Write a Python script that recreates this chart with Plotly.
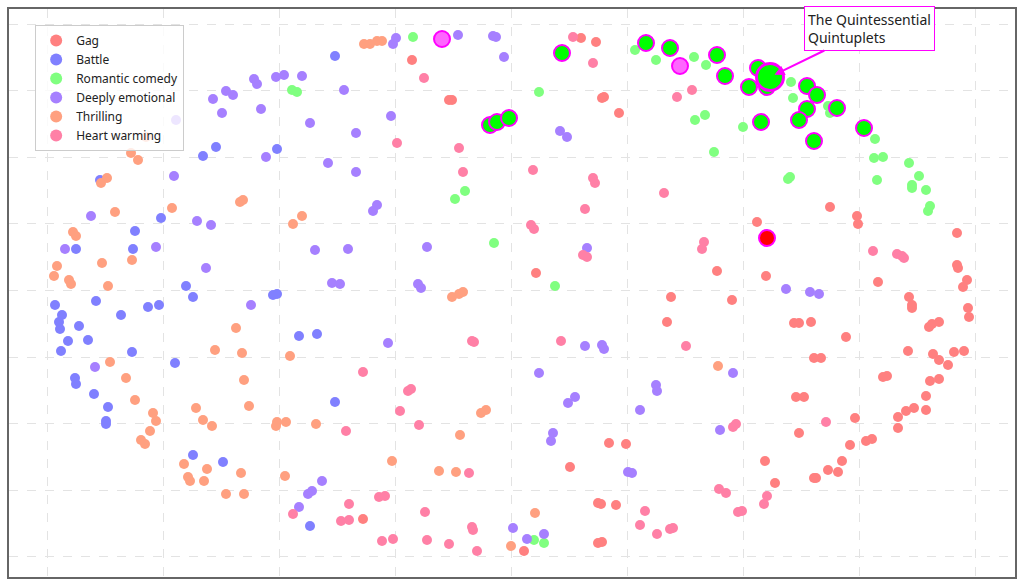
import plotly.graph_objects as go

# Embedding coordinates (arbitrary units; y grows downward)
gag_x = [412, 449, 452, 581, 596, 602, 604, 619, 757, 536, 717, 766, 671, 732, 830, 857, 858, 957, 957, 958,
         967, 963, 878, 909, 912, 912, 968, 969, 794, 799, 811, 846, 929, 932, 939, 908, 933, 939, 948, 954,
         964, 814, 821, 883, 887, 930, 939, 926, 796, 804, 926, 898, 906, 914, 855, 898, 799, 866, 872, 850,
         765, 842, 828, 838, 814, 816, 775, 667, 609, 626, 570, 598, 601, 616, 524, 598, 602, 363]
gag_y = [60, 100, 100, 38, 42, 98, 97, 113, 222, 273, 271, 276, 297, 300, 207, 216, 224, 233, 265, 268,
         280, 287, 282, 297, 305, 308, 308, 317, 323, 323, 322, 337, 327, 324, 322, 351, 354, 360, 365, 352,
         351, 358, 358, 377, 376, 381, 379, 396, 397, 397, 410, 417, 411, 408, 418, 428, 433, 441, 439, 445,
         461, 461, 470, 472, 478, 478, 483, 322, 443, 444, 467, 503, 504, 505, 551, 543, 542, 519]

battle_x = [216, 203, 100, 161, 135, 76, 133, 186, 193, 96, 55, 62, 59, 60, 79, 121, 148, 159, 68, 88,
            61, 132, 175, 75, 76, 94, 108, 106, 106, 193, 223, 335, 277, 273, 277, 299, 317, 335, 310]
battle_y = [147, 156, 180, 218, 231, 249, 249, 286, 297, 301, 305, 315, 322, 329, 326, 315, 307, 305, 341, 340,
            351, 352, 363, 378, 384, 394, 407, 421, 424, 455, 462, 56, 149, 295, 294, 336, 334, 402, 526]

romcom_x = [413, 292, 297, 465, 455, 494, 539, 555, 635, 656, 694, 706, 695, 705, 743, 714, 791, 793, 828, 830,
            875, 874, 883, 877, 909, 919, 912, 912, 926, 930, 928, 788, 790, 534, 544]
romcom_y = [37, 90, 92, 191, 199, 243, 92, 286, 50, 60, 57, 65, 120, 115, 127, 152, 82, 98, 106, 113,
            139, 158, 157, 180, 163, 176, 185, 188, 190, 206, 211, 179, 177, 540, 543]

deep_x = [254, 257, 213, 226, 233, 222, 261, 176, 266, 174, 91, 197, 211, 65, 156, 206, 251, 95, 299, 312,
          308, 322, 396, 393, 458, 493, 496, 504, 276, 284, 302, 344, 391, 310, 356, 328, 356, 377, 373, 315,
          348, 427, 332, 340, 418, 421, 388, 513, 560, 567, 587, 786, 810, 819, 585, 602, 604, 733, 539, 575,
          568, 656, 657, 640, 720, 553, 551, 628, 632, 527, 544]
deep_y = [79, 84, 99, 91, 95, 113, 109, 120, 157, 176, 216, 221, 225, 249, 247, 268, 305, 367, 507, 491,
          494, 481, 38, 44, 35, 36, 37, 57, 77, 75, 76, 90, 116, 123, 133, 163, 172, 205, 211, 250,
          249, 247, 283, 284, 284, 288, 343, 528, 131, 137, 248, 289, 292, 294, 346, 345, 349, 373, 373, 397,
          403, 385, 391, 410, 430, 433, 441, 472, 473, 539, 534]

thrill_x = [146, 131, 138, 107, 101, 240, 243, 115, 172, 73, 76, 132, 102, 57, 54, 69, 71, 108, 236, 215,
            242, 110, 126, 244, 135, 249, 196, 153, 156, 203, 212, 150, 141, 145, 184, 207, 241, 188, 190, 204,
            226, 244, 364, 370, 377, 382, 302, 293, 452, 459, 463, 290, 481, 486, 277, 276, 286, 316, 460, 392,
            285, 439, 456, 511, 718, 535]
thrill_y = [137, 153, 160, 178, 183, 202, 200, 212, 208, 232, 236, 260, 263, 266, 276, 280, 284, 286, 328, 350,
            353, 362, 378, 380, 400, 406, 408, 413, 421, 420, 426, 431, 440, 444, 464, 469, 473, 477, 481, 481,
            494, 494, 44, 44, 41, 41, 216, 224, 297, 294, 292, 356, 413, 410, 422, 426, 422, 424, 435, 461,
            476, 471, 472, 546, 366, 513]

heart_x = [424, 397, 459, 463, 573, 593, 692, 677, 533, 593, 595, 664, 585, 531, 534, 583, 587, 704, 702, 873,
           897, 902, 904, 826, 767, 764, 472, 474, 363, 408, 411, 400, 346, 419, 469, 293, 379, 385, 349, 425,
           341, 349, 472, 473, 382, 393, 427, 449, 477, 561, 686, 733, 736, 719, 726, 645, 738, 742, 640, 657,
           670, 673]
heart_y = [78, 143, 148, 172, 37, 63, 90, 97, 170, 178, 183, 193, 209, 225, 229, 255, 257, 242, 249, 251,
           254, 256, 258, 422, 496, 504, 341, 342, 372, 391, 389, 411, 431, 425, 473, 514, 497, 496, 504, 512,
           521, 520, 527, 530, 541, 539, 540, 544, 551, 341, 346, 427, 424, 489, 493, 511, 512, 511, 525, 534,
           529, 528]

# Highlighted works
hl_green_x = [490, 497, 509, 562, 646, 670, 717, 725, 749, 758, 767, 761, 807, 817, 837, 807, 799, 814, 864]
hl_green_y = [125, 122, 118, 53, 43, 48, 55, 76, 87, 68, 87, 122, 86, 95, 108, 109, 120, 141, 128]
hl_pink_x = [442, 680]
hl_pink_y = [39, 66]
hl_red_x = [767]
hl_red_y = [238]
focus_x = [770]
focus_y = [77]
focus_label = "The Quintessential<br>Quintuplets"

series = [
    ("Gag", gag_x, gag_y, "#FF8080"),
    ("Battle", battle_x, battle_y, "#8080FF"),
    ("Romantic comedy", romcom_x, romcom_y, "#80FF80"),
    ("Deeply emotional", deep_x, deep_y, "#A680FF"),
    ("Thrilling", thrill_x, thrill_y, "#FFA080"),
    ("Heart warming", heart_x, heart_y, "#FF80A6"),
]

fig = go.Figure()
for name, xs, ys, col in series:
    fig.add_trace(go.Scatter(x=xs, y=ys, mode="markers", name=name,
                             marker=dict(size=10, color=col, line=dict(width=0))))

fig.add_trace(go.Scatter(x=hl_pink_x, y=hl_pink_y, mode="markers", showlegend=False,
                         marker=dict(size=16, color="#FF66FF", line=dict(width=2, color="#FF00FF"))))
fig.add_trace(go.Scatter(x=hl_green_x, y=hl_green_y, mode="markers", showlegend=False,
                         marker=dict(size=16, color="#00FF00", line=dict(width=2, color="#FF00FF"))))
fig.add_trace(go.Scatter(x=hl_red_x, y=hl_red_y, mode="markers", showlegend=False,
                         marker=dict(size=16, color="#FF0000", line=dict(width=2, color="#FF00FF"))))
fig.add_trace(go.Scatter(x=focus_x, y=focus_y, mode="markers", showlegend=False,
                         marker=dict(size=27, color="#00FF00", line=dict(width=3, color="#FF00FF"))))

fig.add_annotation(x=focus_x[0], y=focus_y[0], text=focus_label, showarrow=True,
                   ax=99.5, ay=-48.5, align="left",
                   font=dict(family="Noto Sans", size=14, color="#222222"),
                   bgcolor="white", bordercolor="#FF00FF", borderwidth=1, borderpad=3,
                   arrowcolor="#FF00FF", arrowwidth=2, arrowhead=2, arrowsize=1, standoff=5)

axis_common = dict(showticklabels=False, ticks="", showgrid=True, gridcolor="#E3E3E3",
                   griddash="dash", gridwidth=1, zeroline=False, showline=True, mirror=True,
                   linecolor="#666666", linewidth=1.5)

fig.update_layout(
    width=1024, height=585,
    margin=dict(l=9, r=9, t=9, b=8),
    paper_bgcolor="white", plot_bgcolor="white",
    font=dict(family="Noto Sans", color="#222222"),
    xaxis=dict(range=[9, 1015], tick0=47, dtick=116.1, **axis_common),
    yaxis=dict(range=[577, 9], tick0=24, dtick=66.6, **axis_common),
    legend=dict(x=0.026, y=0.972, xanchor="left", yanchor="top",
                bgcolor="rgba(255,255,255,0.8)", bordercolor="#CCCCCC", borderwidth=1,
                font=dict(family="Noto Sans", size=12, color="#222222"),
                tracegroupgap=0, itemsizing="constant"),
    showlegend=True,
)

fig.write_html("out.html", config={"displayModeBar": False})
with open("out.html", "r", encoding="utf-8") as f:
    html = f.read()
html = html.replace("<head>", "<head><style>html,body{margin:0;padding:0;overflow:hidden;}</style>", 1)
with open("out.html", "w", encoding="utf-8") as f:
    f.write(html)
